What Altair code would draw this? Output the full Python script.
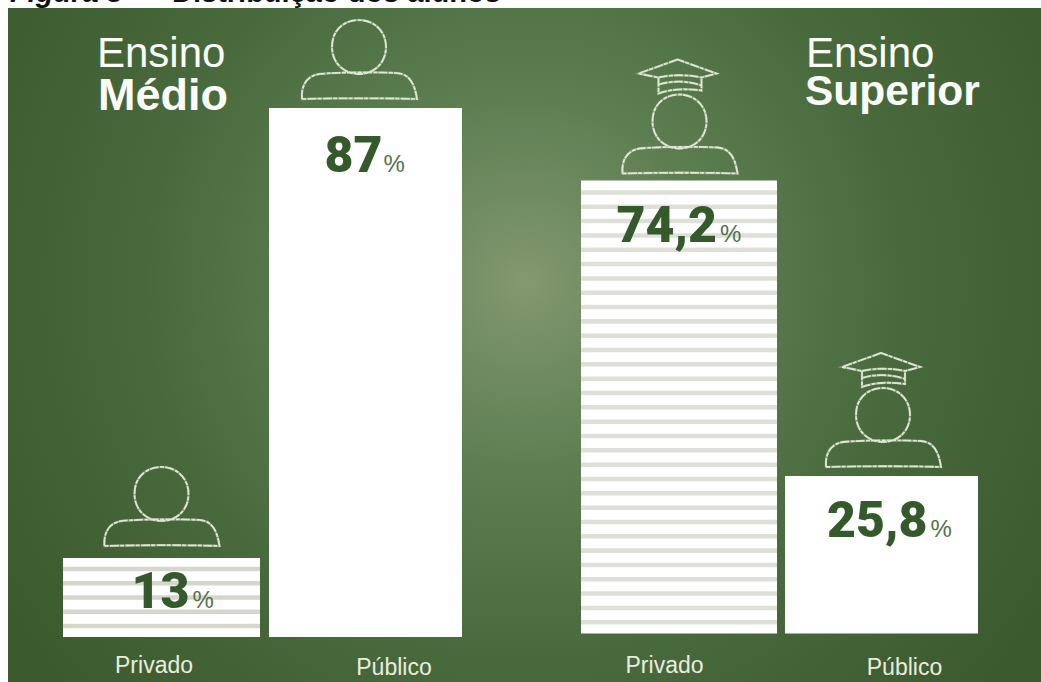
import altair as alt
import pandas as pd

# Student distribution by school level and network
categories = ["Privado", "Público"]
medio_values = [13, 87]
superior_values = [74.2, 25.8]

HEAVY = "Roboto"
SANS = "Liberation Sans"
INK = "#345a2b"
CHALK = "#e6ebdc"

# Percent scale and bar centres of each panel
PANELS = {
    "medio": {"y": [637, 29], "x": [161.5, 365.5]},
    "superior": {"y": [633.5, 23], "x": [679, 881.5]},
}

# Chalk drawings, in pixels around the top centre of a bar
PERSON = (
    "M-27,-53 C-27,-71 -14,-80 0,-80 C15,-80 27,-69 27,-53 C27,-37 15,-26 0,-26 "
    "C-15,-26 -27,-37 -27,-53 Z "
    "M-57,-1 C-58,-12 -54,-24 -40,-26 C-20,-28 20,-28 38,-27 C52,-26 56,-14 58,-1 "
    "C30,-2 -20,-2 -57,-1 Z"
)
CAP = (
    "M-2,-115 L-41,-101 L-21,-97 C-8,-100 8,-100 22,-97 L37,-101 Z "
    "M-21,-97 L-21,-81 C-8,-86 8,-86 22,-84 L22,-97 M-21,-90 C-8,-94 8,-94 22,-89"
)


def frame(values):
    rows = pd.DataFrame({"rede": categories, "pct": values})
    rows["rotulo"] = rows["pct"].map(lambda v: f"{v:g}".replace(".", ","))
    rows["base"] = 0
    return rows


def x_enc(panel):
    return alt.X(
        "rede:N",
        axis=None,
        scale=alt.Scale(type="point", domain=categories, range=PANELS[panel]["x"], padding=0),
    )


def y_enc(panel, field="pct"):
    return alt.Y(
        f"{field}:Q",
        axis=None,
        scale=alt.Scale(domain=[0, 100], range=PANELS[panel]["y"]),
    )


def bar(panel, rows, width, stripe=None, step=2.347, band=0.74):
    layers = [
        alt.Chart(rows)
        .mark_bar(width=width, color="#ffffff")
        .encode(x=x_enc(panel), y=y_enc(panel), y2=alt.Y2("base:Q"))
    ]
    if stripe:
        value = rows["pct"].iloc[0]
        first = value - stripe[1]
        count = int(first // step) + 1
        bands = pd.DataFrame(
            {
                "rede": [rows["rede"].iloc[0]] * count,
                "topo": [first - i * step for i in range(count)],
                "fim": [first - i * step - band for i in range(count)],
            }
        )
        layers.append(
            alt.Chart(bands)
            .mark_bar(width=width, color=stripe[0])
            .encode(x=x_enc(panel), y=y_enc(panel, "topo"), y2=alt.Y2("fim:Q"))
        )
    return layers


def icon(panel, rows, dx, gap, cap=False):
    shape = PERSON + (" " + CAP if cap else "")
    # A broken stroke gives the line its hand-drawn chalk texture
    return [
        alt.Chart(rows)
        .mark_point(shape=shape, size=4, filled=False, stroke=CHALK, strokeWidth=width,
                    opacity=alpha, strokeDash=dash, xOffset=dx, yOffset=-gap)
        .encode(x=x_enc(panel), y=y_enc(panel))
        for width, alpha, dash in [(2.4, 0.35, [40, 0]), (1.8, 0.95, [9, 1.5, 4, 1])]
    ]


def value_label(panel, rows, dx, dy, pct_dx, pct_dy=0):
    number = (
        alt.Chart(rows)
        .mark_text(font=HEAVY, fontWeight=900, fontSize=50, color=INK, align="right",
                   baseline="alphabetic", dx=dx, dy=dy)
        .encode(x=x_enc(panel), y=y_enc(panel), text="rotulo:N")
    )
    sign = (
        alt.Chart(rows)
        .mark_text(font=SANS, fontSize=24, color="#55704c", align="left",
                   baseline="alphabetic", dx=pct_dx, dy=dy + pct_dy)
        .encode(x=x_enc(panel), y=y_enc(panel), text=alt.value("%"))
    )
    return [number, sign]


def category_label(panel, rows, dx, dy):
    return [
        alt.Chart(rows)
        .mark_text(font=SANS, fontSize=23, color="#e8eddf", align="center",
                   baseline="alphabetic", dx=dx, dy=dy)
        .encode(x=x_enc(panel), y=y_enc(panel, "base"), text="rede:N")
    ]


def heading(text, x, y, bold=False, size=42):
    return (
        alt.Chart(pd.DataFrame({"t": [text]}))
        .mark_text(font=SANS, fontSize=size, fontWeight="bold" if bold else "normal",
                   color="#fbfcf8", align="left", baseline="alphabetic")
        .encode(x=alt.value(x), y=alt.value(y), text="t:N")
    )


def caption(text, x, italic=False):
    return (
        alt.Chart(pd.DataFrame({"t": [text]}))
        .mark_text(font=SANS, fontSize=29, fontWeight="bold",
                   fontStyle="italic" if italic else "normal", color="#111111",
                   align="left", baseline="alphabetic")
        .encode(x=alt.value(x), y=alt.value(2), text="t:N")
    )


# Chalkboard: a light smudge in the middle, falling off to dark green edges
board = (
    alt.Chart(pd.DataFrame({"a": [0]}))
    .mark_rect(
        color=alt.RadialGradient(
            gradient="radial", x1=0.5, y1=0.44, r1=0, x2=0.5, y2=0.44, r2=0.6,
            stops=[
                alt.GradientStop(offset=0, color="#84996f"),
                alt.GradientStop(offset=0.12, color="#738d64"),
                alt.GradientStop(offset=0.32, color="#5c7d50"),
                alt.GradientStop(offset=0.62, color="#48693c"),
                alt.GradientStop(offset=1, color="#3b5a2e"),
            ],
        )
    )
    .encode(x=alt.value(8), x2=alt.value(1041), y=alt.value(8), y2=alt.value(682))
)

medio = frame(medio_values)
superior = frame(superior_values)
mp, mq = medio.iloc[[0]], medio.iloc[[1]]
sp, sq = superior.iloc[[0]], superior.iloc[[1]]

layers = [board]
layers += bar("medio", mp, 197, stripe=("#d6d6cd", 1.45))
layers += bar("medio", mq, 193)
layers += bar("superior", sp, 196, stripe=("#dfdfd9", 1.58))
layers += bar("superior", sq, 193)

layers += icon("medio", mp, 0, 11)
layers += icon("medio", mq, -6.5, 8)
layers += icon("superior", sp, 0.5, 6, cap=True)
layers += icon("superior", sq, 1.5, 8, cap=True)

layers += value_label("medio", mp, 28, 50, 31)
layers += value_label("medio", mq, 17, 64, 18)
layers += value_label("superior", sp, 38, 61, 41)
layers += value_label("superior", sq, 46, 61, 49)

layers += category_label("medio", mp, -7.5, 36)
layers += category_label("medio", mq, 28.5, 38)
layers += category_label("superior", sp, -14.5, 39)
layers += category_label("superior", sq, 23, 41)

layers += [
    heading("Ensino", 97, 67),
    heading("Médio", 98, 110, bold=True, size=45),
    heading("Ensino", 806, 67),
    heading("Superior", 805, 105, bold=True, size=42.5),
    caption("Figura 3 –", 10, italic=True),
    caption("Distribuição dos alunos", 172),
]

chart = (
    alt.layer(*layers)
    .resolve_scale(x="independent", y="independent")
    .properties(width=1041, height=682, padding=0, autosize=alt.AutoSizeParams(type="none"),
                background="#ffffff")
    .configure_view(stroke=None)
)

chart.save("out.html", embed_options={"renderer": "svg", "actions": False})
